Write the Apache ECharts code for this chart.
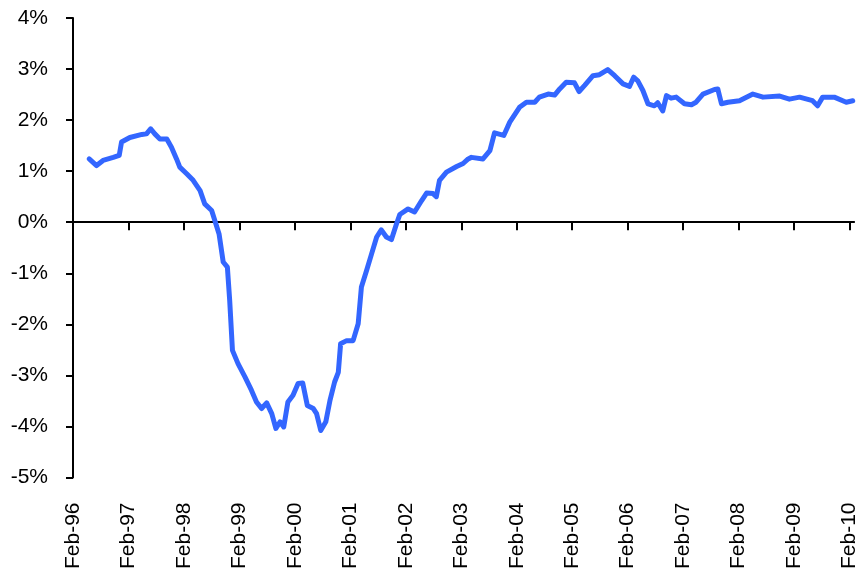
<!DOCTYPE html>
<html>
<head>
<meta charset="utf-8">
<script src="https://cdn.jsdelivr.net/npm/echarts@6/dist/echarts.min.js"></script>
<style>
html,body{margin:0;padding:0;background:#fff;}
#chart{width:860px;height:572px;}
</style>
</head>
<body>
<div id="chart"></div>
<script>
// Months since Feb-96
var months = [3.5,5.1,6.5,8.7,10.0,10.5,12.3,14.9,15.9,16.8,17.7,18.8,20.3,21.3,22.4,23.1,24.6,26.0,27.5,28.5,30.0,30.7,31.6,32.5,33.4,33.9,34.5,35.7,37.2,38.6,39.7,40.8,41.9,43.0,43.9,44.8,45.6,46.5,47.6,48.7,49.7,50.7,52.0,52.7,53.6,54.7,55.6,56.6,57.4,57.9,59.2,60.6,61.7,62.4,63.5,64.6,65.7,66.7,67.8,68.9,70.0,70.7,72.5,73.9,75.4,76.5,77.9,78.6,79.3,80.8,83.0,84.4,85.5,86.2,88.7,90.2,91.2,93.2,94.5,96.6,98.1,99.9,100.9,102.8,104.2,105.3,106.7,108.5,109.5,110.7,112.5,113.9,115.7,117.2,119.0,120.4,121.3,122.2,123.3,124.4,125.8,126.5,127.6,128.4,129.4,130.5,132.3,133.8,134.8,136.3,138.8,139.5,140.3,141.7,144.2,147.1,149.3,152.9,155.0,157.2,160.0,161.1,162.2,164.7,167.3,168.7];
// Value in percent
var values = [1.24,1.11,1.21,1.27,1.31,1.57,1.66,1.72,1.73,1.83,1.73,1.63,1.63,1.47,1.24,1.08,0.95,0.82,0.62,0.36,0.23,0.03,-0.23,-0.78,-0.88,-1.53,-2.51,-2.77,-3.03,-3.29,-3.52,-3.65,-3.54,-3.75,-4.04,-3.91,-4.01,-3.52,-3.39,-3.16,-3.15,-3.59,-3.65,-3.75,-4.08,-3.91,-3.49,-3.13,-2.94,-2.38,-2.32,-2.32,-1.99,-1.27,-0.95,-0.62,-0.29,-0.15,-0.29,-0.34,-0.03,0.15,0.26,0.20,0.42,0.57,0.56,0.50,0.82,0.98,1.09,1.15,1.24,1.27,1.24,1.40,1.75,1.70,1.96,2.25,2.35,2.35,2.45,2.51,2.49,2.61,2.74,2.73,2.56,2.68,2.87,2.89,2.99,2.87,2.71,2.66,2.84,2.77,2.58,2.32,2.28,2.34,2.18,2.48,2.43,2.45,2.32,2.30,2.35,2.51,2.60,2.61,2.32,2.35,2.38,2.51,2.45,2.47,2.41,2.45,2.38,2.28,2.45,2.45,2.35,2.38];
var tickLabels = ['Feb-96','Feb-97','Feb-98','Feb-99','Feb-00','Feb-01','Feb-02','Feb-03','Feb-04','Feb-05','Feb-06','Feb-07','Feb-08','Feb-09','Feb-10'];
var tickMonths = tickLabels.map(function(_, i){ return i * 12; });

var data = months.map(function(m, i){ return [m, values[i]]; });
var FONT = '"Liberation Sans", Arial, sans-serif';

var chart = echarts.init(document.getElementById('chart'), null, {renderer: 'canvas'});
chart.setOption({
  backgroundColor: '#ffffff',
  animation: false,
  grid: {left: 73, right: 5.4, top: 18, bottom: 94, containLabel: false},
  xAxis: [{
    type: 'value', min: 0, max: 169, position: 'bottom',
    axisLine: {show: true, onZero: true, lineStyle: {color: '#000', width: 2}},
    axisTick: {show: true, inside: false, length: 8, lineStyle: {color: '#000', width: 2}, customValues: tickMonths},
    axisLabel: {show: false},
    splitLine: {show: false}
  }, {
    type: 'value', min: 0, max: 169, position: 'bottom', offset: 0,
    axisLine: {show: false, onZero: false},
    axisTick: {show: false},
    splitLine: {show: false},
    axisLabel: {
      show: true, rotate: 90, margin: 25, color: '#000', fontSize: 21, fontFamily: FONT,
      customValues: tickMonths,
      formatter: function(v){ var i = Math.round(v / 12); return tickLabels[i] || ''; }
    }
  }],
  yAxis: {
    type: 'value', min: -5, max: 4, interval: 1,
    axisLine: {show: true, onZero: false, lineStyle: {color: '#000', width: 2}},
    axisTick: {show: true, inside: false, length: 7, lineStyle: {color: '#000', width: 2}},
    splitLine: {show: false},
    axisLabel: {color: '#000', fontSize: 21, fontFamily: FONT, margin: 25,
      formatter: function(v){ return v + '%'; }}
  },
  series: [{
    type: 'line', xAxisIndex: 0, yAxisIndex: 0, data: data,
    showSymbol: false, symbol: 'none',
    lineStyle: {color: '#3366ff', width: 5, join: 'round', cap: 'round'}
  }]
});
</script>
</body>
</html>
